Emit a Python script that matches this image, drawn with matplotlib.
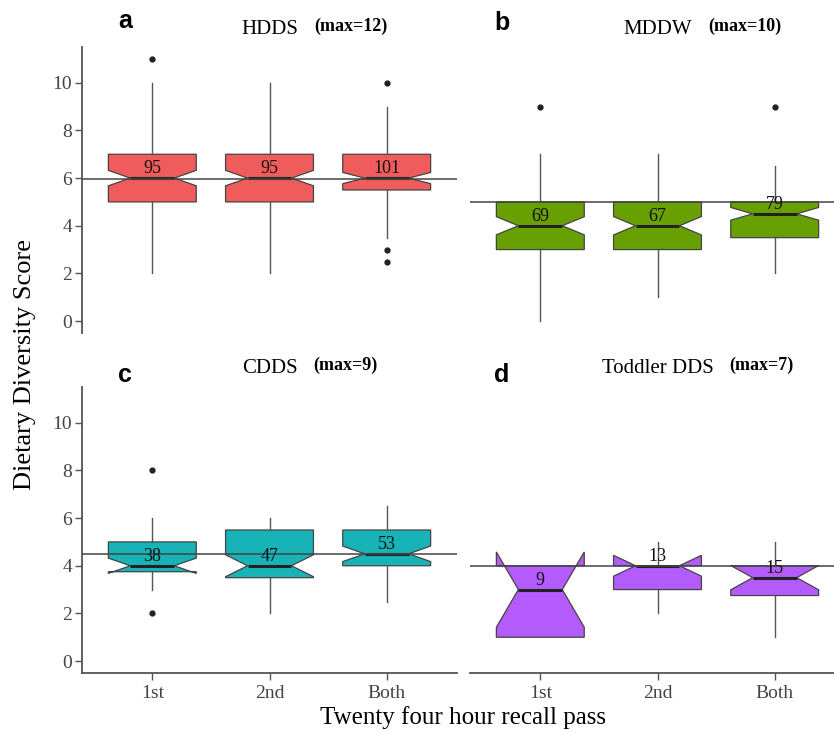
import numpy as np
import matplotlib
matplotlib.use('Agg')
from matplotlib import pyplot as plt

passes = ['1st', '2nd', 'Both']

# panel a: HDDS
hdds_q1 = [5, 5, 5.5]
hdds_med = [6, 6, 6]
hdds_q3 = [7, 7, 7]
hdds_lo = [2, 2, 3.5]
hdds_hi = [10, 10, 9]
hdds_n = [95, 95, 101]
hdds_out = [[11], [], [10, 3, 2.5]]
hdds_ref = 5.95

# panel b: MDDW
mddw_q1 = [3, 3, 3.5]
mddw_med = [4, 4, 4.5]
mddw_q3 = [5, 5, 5]
mddw_lo = [0, 1, 2]
mddw_hi = [7, 7, 6.5]
mddw_n = [69, 67, 79]
mddw_out = [[9], [], [9]]
mddw_ref = 5.0

# panel c: CDDS
cdds_q1 = [3.75, 3.5, 4]
cdds_med = [4, 4, 4.5]
cdds_q3 = [5, 5.5, 5.5]
cdds_lo = [3, 2, 2.5]
cdds_hi = [6, 6, 6.5]
cdds_n = [38, 47, 53]
cdds_out = [[8, 2], [], []]
cdds_ref = 4.48

# panel d: Toddler DDS
tdds_q1 = [1, 3, 2.75]
tdds_med = [3, 4, 3.5]
tdds_q3 = [4, 4, 4]
tdds_lo = [1, 2, 1]
tdds_hi = [4, 5, 5]
tdds_n = [9, 13, 15]
tdds_out = [[], [], []]
tdds_ref = 4.0

panels = [
    ('a', 'HDDS', '(max=12)', '#F05C5C', hdds_q1, hdds_med, hdds_q3, hdds_lo, hdds_hi, hdds_n, hdds_out, hdds_ref),
    ('b', 'MDDW', '(max=10)', '#67A000', mddw_q1, mddw_med, mddw_q3, mddw_lo, mddw_hi, mddw_n, mddw_out, mddw_ref),
    ('c', 'CDDS', '(max=9)', '#18B3B7', cdds_q1, cdds_med, cdds_q3, cdds_lo, cdds_hi, cdds_n, cdds_out, cdds_ref),
    ('d', 'Toddler DDS', '(max=7)', '#B45BFB', tdds_q1, tdds_med, tdds_q3, tdds_lo, tdds_hi, tdds_n, tdds_out, tdds_ref),
]

serif = 'Liberation Serif'
W, H = 834, 733
fig = plt.figure(figsize=(W / 100, H / 100), dpi=100)
renderer = fig.canvas.get_renderer()

# axes boxes in pixels: left, top, right, bottom
boxes = [(82, 47, 457, 333), (470, 47, 845, 333), (82, 387, 457, 673), (470, 387, 845, 673)]
# baselines (px from top) of panel letter and title
letter_x = [125, 502, 125, 502]
letter_y = [28, 30, 382, 382]
title_y = [34, 34, 373, 373]

for i, (letter, name, mx, color, q1, med, q3, lo, hi, n, out, ref) in enumerate(panels):
    l, t, r, b = boxes[i]
    ax = fig.add_axes([l / W, 1 - b / H, (r - l) / W, (b - t) / H])
    stats = []
    for k in range(3):
        iqr = q3[k] - q1[k]
        half = 1.58 * iqr / np.sqrt(n[k])
        stats.append(dict(med=med[k], q1=q1[k], q3=q3[k], whislo=lo[k], whishi=hi[k],
                          cilo=med[k] - half, cihi=med[k] + half, fliers=out[k]))
    ax.bxp(stats, positions=[1, 2, 3], widths=0.75, shownotches=True, showcaps=False,
           patch_artist=True,
           boxprops=dict(facecolor=color, edgecolor='#444444', linewidth=0.9),
           whiskerprops=dict(color='#555555', linewidth=1.0),
           medianprops=dict(color='#222222', linewidth=2.2),
           flierprops=dict(marker='o', markerfacecolor='#222222', markeredgecolor='#222222',
                           markersize=3.5))
    ax.axhline(ref, color='#444444', linewidth=1.1, zorder=4)
    for k in range(3):
        ax.text(k + 1, med[k] + 0.04, str(n[k]), ha='center', va='bottom',
                fontsize=13, family=serif, color='#111111', zorder=5)
    ax.set_xlim(0.4, 3.6)
    ax.set_ylim(-0.5, 11.5)
    for s in ['top', 'right']:
        ax.spines[s].set_visible(False)
    ax.set_yticks([0, 2, 4, 6, 8, 10])
    ax.set_xticks([1, 2, 3])
    ax.set_xticklabels(passes)
    ax.tick_params(colors='#555555', labelcolor='#444444', length=5, width=1.0, pad=2,
                   labelsize=14)
    ax.tick_params(axis='x', pad=4)
    for lab in ax.get_xticklabels() + ax.get_yticklabels():
        lab.set_family(serif)
    if i % 2 == 1:
        ax.spines['left'].set_visible(False)
        ax.tick_params(axis='y', left=False, labelleft=False)
    else:
        ax.spines['left'].set_color('#555555')
        ax.spines['left'].set_linewidth(1.3)
    if i < 2:
        ax.spines['bottom'].set_visible(False)
        ax.tick_params(axis='x', bottom=False, labelbottom=False)
    else:
        ax.spines['bottom'].set_color('#555555')
        ax.spines['bottom'].set_linewidth(1.3)

    # panel letter and title
    cx = l + (r - l) * 1.6 / 3.2
    fig.text(letter_x[i] / W, 1 - letter_y[i] / H, letter, ha='center', va='baseline',
             fontsize=18, fontweight='bold', family='Liberation Sans')
    tt = fig.text(cx / W, 1 - title_y[i] / H, name, ha='center', va='baseline',
                  fontsize=15, family=serif)
    x_end = tt.get_window_extent(renderer).x1
    fig.text((x_end + 16) / W, 1 - (title_y[i] - 3) / H, mx, ha='left',
             va='baseline', fontsize=13, fontweight='bold', family=serif)

fig.text(463 / W, 1 - 718 / H, 'Twenty four hour recall pass', ha='center', va='center',
         fontsize=18, family=serif)
fig.text(25 / W, 1 - 364 / H, 'Dietary Diversity Score', ha='center', va='center',
         rotation=90, fontsize=19, family=serif)

fig.savefig('out.png', dpi=100)
